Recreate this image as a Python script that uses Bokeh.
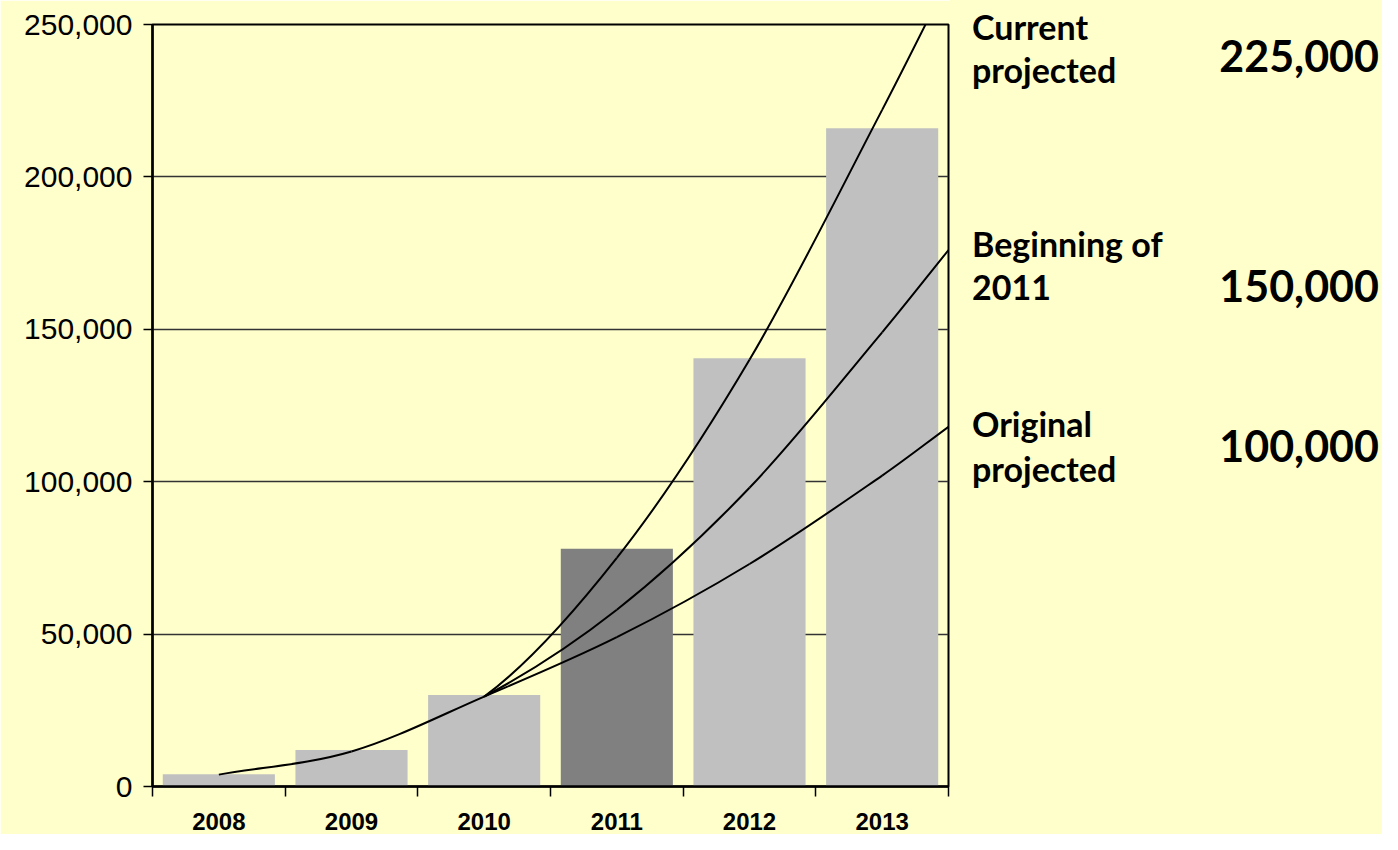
from bokeh.plotting import figure
from bokeh.layouts import row
from bokeh.models import Range1d, FixedTicker, NumeralTickFormatter, Div
from bokeh.embed import file_html
from bokeh.resources import INLINE

# ---- data ----
years = ["2008", "2009", "2010", "2011", "2012", "2013"]
actual = [4000, 12000, 30000, 78000, 140500, 216000]
bar_colors = ["#C0C0C0", "#C0C0C0", "#C0C0C0", "#808080", "#C0C0C0", "#C0C0C0"]

orig_x = [0, 1, 2, 3, 4, 5, 5.5]
orig_y = [3900, 11500, 29500, 49000, 73000, 102000, 118000]
begin_x = [1, 2, 3, 4, 5, 5.5]
begin_y = [11500, 29500, 58000, 98000, 149000, 176000]
curr_x = [1, 2, 3, 4, 5, 5.5]
curr_y = [11500, 29500, 75000, 140000, 222000, 265000]

y_ticks = [0, 50000, 100000, 150000, 200000, 250000]
name_lines = ["Current", "projected", "Beginning of", "2011", "Original", "projected"]
series_totals = ["225,000", "150,000", "100,000"]

BG = "#FFFFCC"
H = 834

p = figure(width=950, height=H, output_backend="svg", toolbar_location=None, title=None,
           x_range=Range1d(-0.5, 5.5), y_range=Range1d(0, 250000),
           min_border_left=152, min_border_right=2, min_border_top=24, min_border_bottom=48,
           background_fill_color=BG, border_fill_color=BG)
p.outline_line_color = "black"
p.outline_line_width = 2

# bars
p.vbar(x=list(range(len(years))), top=actual, width=0.845, fill_color=bar_colors, line_color=None)


def smooth(xs, ys, start=0):
    n = len(xs)
    m = []
    for i in range(n):
        if i == 0:
            m.append((ys[1] - ys[0]) / (xs[1] - xs[0]))
        elif i == n - 1:
            m.append((ys[-1] - ys[-2]) / (xs[-1] - xs[-2]))
        else:
            m.append((ys[i + 1] - ys[i - 1]) / (xs[i + 1] - xs[i - 1]))
    d = dict(x0=[], y0=[], x1=[], y1=[], cx0=[], cy0=[], cx1=[], cy1=[])
    for i in range(start, n - 1):
        h = xs[i + 1] - xs[i]
        d["x0"].append(xs[i]); d["y0"].append(ys[i])
        d["x1"].append(xs[i + 1]); d["y1"].append(ys[i + 1])
        d["cx0"].append(xs[i] + h / 3); d["cy0"].append(ys[i] + m[i] * h / 3)
        d["cx1"].append(xs[i + 1] - h / 3); d["cy1"].append(ys[i + 1] - m[i + 1] * h / 3)
    return d


for xs, ys, st in [(orig_x, orig_y, 0), (begin_x, begin_y, 1), (curr_x, curr_y, 1)]:
    p.bezier(line_color="black", line_width=2, **smooth(xs, ys, st))

# axes
p.xgrid.visible = False
p.ygrid.ticker = FixedTicker(ticks=y_ticks, minor_ticks=[])
p.ygrid.grid_line_color = "#333333"
p.ygrid.grid_line_width = 1.5

xa = p.xaxis[0]
xa.ticker = FixedTicker(ticks=list(range(len(years))),
                        minor_ticks=[i - 0.5 for i in range(len(years) + 1)])
xa.major_label_overrides = {i: y for i, y in enumerate(years)}
xa.major_tick_line_color = None
xa.major_tick_out = 0
xa.major_tick_in = 0
xa.minor_tick_line_color = "black"
xa.minor_tick_line_width = 1.5
xa.minor_tick_out = 10
xa.minor_tick_in = 0
xa.axis_line_color = "black"
xa.axis_line_width = 2.5
xa.major_label_standoff = 16
xa.major_label_text_font = "Liberation Sans"
xa.major_label_text_font_style = "bold"
xa.major_label_text_font_size = "24px"
xa.major_label_text_color = "black"

ya = p.yaxis[0]
ya.ticker = FixedTicker(ticks=y_ticks, minor_ticks=[])
ya.formatter = NumeralTickFormatter(format="0,0")
ya.major_tick_out = 9
ya.major_tick_in = 0
ya.major_tick_line_color = "black"
ya.major_tick_line_width = 1.5
ya.axis_line_color = "black"
ya.axis_line_width = 2.5
ya.major_label_standoff = 11
ya.major_label_text_font = "Liberation Sans"
ya.major_label_text_font_size = "30px"
ya.major_label_text_color = "black"

# right-hand text panel: absolutely positioned text (top = baseline - ascent)
W2 = 1382 - 950
name_base = [40, 83, 257, 300, 437, 482]
tot_base = [72, 302, 462]
NAME_FS, TOT_FS = 34, 43
spans = []
for txt, b in zip(name_lines, name_base):
    top = b - round(0.887 * NAME_FS)
    spans.append(f'<span style="position:absolute;left:22px;top:{top}px;font:bold {NAME_FS}px Lato;'
                 f'line-height:1;white-space:nowrap;color:black">{txt}</span>')
for txt, b in zip(series_totals, tot_base):
    top = b - round(0.887 * TOT_FS)
    spans.append(f'<span style="position:absolute;right:3px;top:{top}px;font:bold {TOT_FS}px Lato;'
                 f'line-height:1;white-space:nowrap;color:black">{txt}</span>')
html = (f'<div style="position:relative;width:{W2}px;height:{H}px;background:{BG};margin:0;padding:0">'
        + "".join(spans) + "</div>")
panel = Div(text=html, width=W2, height=H, margin=0,
            styles={"background-color": BG, "padding": "0", "margin": "0"})

layout = row(p, panel, spacing=0)
open("out.html", "w").write(file_html(layout, INLINE))
